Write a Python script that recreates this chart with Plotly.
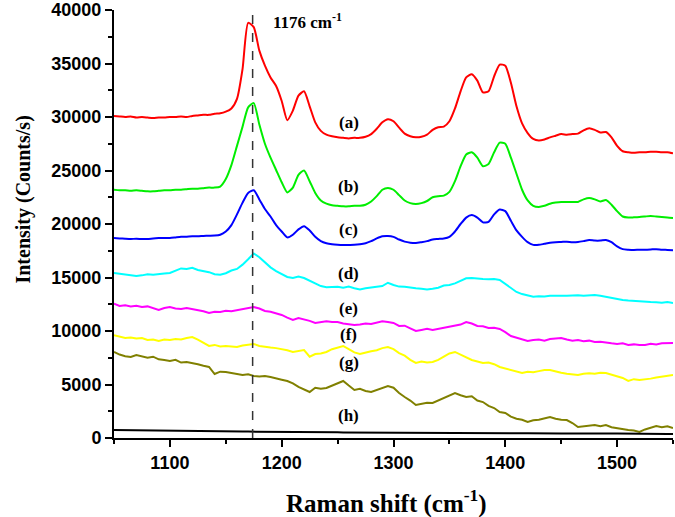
import numpy as np
import plotly.graph_objects as go

raman_shift = list(range(1050, 1551, 5))

series_a = [30100, 30050, 30000, 30050, 29950, 30000, 29950, 29900, 29950, 29950,
            30000, 30000, 30050, 30000, 30100, 30150, 30200, 30200, 30300, 30350,
            30500, 30800, 31700, 34500, 38800, 38400, 36200, 34800, 33700, 32900,
            31500, 29700, 30600, 32000, 32400, 31000, 29500, 28700, 28350, 28200,
            28100, 28050, 28000, 28050, 28050, 28150, 28400, 28900, 29500, 29800,
            29600, 29000, 28450, 28200, 28100, 28150, 28350, 28800, 29050, 29100,
            29600, 30800, 32400, 33700, 34000, 33400, 32300, 32400, 33800, 34900,
            34800, 33200, 31000, 29400, 28500, 27950, 27800, 27900, 28100, 28250,
            28400, 28350, 28400, 28450, 28750, 28950, 28800, 28550, 28600, 28100,
            27300, 26800, 26700, 26650, 26700, 26700, 26750, 26750, 26700, 26700,
            26600]
series_b = [23200, 23150, 23150, 23100, 23150, 23100, 23050, 23050, 23100, 23150,
            23150, 23200, 23200, 23250, 23300, 23300, 23350, 23400, 23400, 23500,
            24200, 25500, 27300, 29100, 30900, 31300, 29300, 27500, 26200, 25050,
            23900, 22950, 23400, 24600, 25000, 24000, 22900, 22200, 21900, 21750,
            21700, 21650, 21650, 21700, 21700, 21800, 22100, 22600, 23200, 23370,
            23200, 22700, 22200, 21950, 21870, 21950, 22150, 22500, 22600, 22650,
            23000, 24000, 25400, 26500, 26700, 26200, 25400, 25600, 26700, 27600,
            27500, 26200, 24700, 23200, 22200, 21700, 21600, 21700, 21900, 22000,
            22060, 22050, 22050, 22060, 22300, 22430, 22300, 22100, 22240, 21800,
            21200, 20700, 20600, 20620, 20650, 20700, 20750, 20700, 20650, 20600,
            20560]
series_c = [18690, 18650, 18620, 18600, 18620, 18600, 18600, 18650, 18680, 18700,
            18700, 18750, 18800, 18820, 18850, 18850, 18880, 18900, 18920, 19000,
            19300, 19900, 20900, 22000, 22900, 23150, 22300, 21400, 20700, 19900,
            19300, 18750, 19000, 19500, 19800, 19400, 18800, 18400, 18200, 18100,
            18050, 18030, 18040, 18050, 18100, 18200, 18400, 18650, 18850, 18880,
            18800, 18550, 18350, 18250, 18220, 18300, 18400, 18550, 18600, 18650,
            18800, 19300, 20000, 20600, 20840, 20600, 20150, 20200, 20900, 21350,
            21200, 20300, 19400, 18800, 18300, 18050, 18050, 18150, 18250, 18300,
            18320, 18350, 18300, 18320, 18400, 18500, 18450, 18450, 18500, 18300,
            17900, 17650, 17600, 17580, 17600, 17600, 17620, 17650, 17600, 17580,
            17550]
series_d = [15420, 15350, 15300, 15250, 15140, 15200, 15300, 15250, 15350, 15380,
            15420, 15650, 15850, 15800, 15900, 15700, 15600, 15500, 15300, 15250,
            15400, 15650, 15800, 16200, 16700, 17250, 16900, 16400, 15950, 15600,
            15300, 15050, 14950, 15080, 14950, 14700, 14450, 14200, 14100, 14150,
            14140, 14050, 14150, 14000, 13890, 14000, 14100, 14140, 14200, 14510,
            14300, 14150, 14140, 14050, 14000, 13950, 13890, 13950, 14050, 14250,
            14300, 14450, 14700, 14920, 14950, 14880, 14860, 14830, 14850, 14770,
            14400, 13950, 13650, 13450, 13300, 13200, 13250, 13230, 13300, 13280,
            13270, 13300, 13320, 13350, 13300, 13330, 13360, 13300, 13200, 13050,
            12950, 12900, 12850, 12800, 12750, 12710, 12700, 12680, 12650, 12700,
            12620]
series_e = [12550, 12340, 12400, 12300, 12350, 12240, 12300, 12100, 11960, 12150,
            12240, 12100, 12050, 12150, 12060, 11950, 11850, 11680, 11800, 11780,
            11900, 11850, 11960, 12000, 12150, 12240, 12100, 11870, 11800, 11650,
            11500, 11250, 11030, 11210, 11100, 10950, 10750, 10800, 10900, 10840,
            10840, 10700, 10650, 10560, 10600, 10700, 10650, 10750, 10900, 10840,
            10750, 10470, 10500, 10250, 10000, 10100, 10200, 10090, 10200, 10300,
            10370, 10500, 10600, 10840, 10700, 10470, 10450, 10280, 10300, 10190,
            9900, 9530, 9400, 9250, 9070, 9150, 9200, 9100, 9250, 9300,
            9350, 9200, 9100, 9150, 9050, 9100, 8970, 9000, 8900, 8850,
            8790, 8850, 8700, 8750, 8690, 8700, 8800, 8750, 8850, 8900,
            8880]
series_f = [9600, 9450, 9350, 9400, 9300, 9350, 9160, 9200, 9070, 9200,
            9150, 9250, 9200, 9350, 9440, 9200, 8900, 8600, 8700, 8550,
            8600, 8550, 8500, 8650, 8700, 8790, 8600, 8500, 8450, 8400,
            8320, 8200, 8040, 8100, 8220, 7600, 7850, 7900, 8040, 8300,
            8450, 8600, 8300, 8000, 7850, 8000, 8100, 8200, 8400, 8500,
            8300, 7940, 7700, 7300, 7010, 7150, 7050, 7100, 7300, 7600,
            7900, 8040, 7800, 7500, 7290, 7150, 7010, 7050, 6900, 6640,
            6500, 6300, 6150, 6070, 6200, 6150, 6250, 6360, 6350, 6200,
            6100, 6000, 5950, 5890, 6000, 6050, 6000, 6100, 6070, 5900,
            5750, 5610, 5330, 5500, 5420, 5450, 5550, 5650, 5750, 5800,
            5890]
series_g = [8040, 7800, 7650, 7570, 7750, 7660, 7500, 7600, 7350, 7290,
            7200, 7300, 7050, 7100, 7010, 6900, 6750, 6640, 5980, 6200,
            6170, 6100, 6000, 5890, 5950, 5790, 5750, 5800, 5700, 5550,
            5450, 5330, 5100, 4770, 4500, 4300, 4700, 4600, 4670, 4900,
            5140, 5330, 4900, 4490, 4600, 4400, 4300, 4500, 4700, 4860,
            4700, 4200, 3830, 3500, 3080, 3200, 3300, 3270, 3500, 3800,
            4000, 4200, 4000, 3830, 3900, 3500, 3360, 3000, 2800, 2430,
            2340, 2000, 1800, 1700, 1500, 1650, 1700, 1800, 1960, 1800,
            1700, 1680, 1400, 1030, 1100, 1150, 1215, 1100, 1210, 1000,
            900, 840, 750, 700, 560, 800, 930, 1120, 1000, 1100,
            930]
series_h = [750, 740, 730, 720, 720, 700, 710, 690, 680, 680,
            670, 680, 660, 650, 650, 640, 640, 630, 630, 620,
            620, 610, 610, 600, 600, 600, 590, 580, 580, 570,
            570, 560, 560, 550, 550, 550, 540, 540, 530, 530,
            530, 520, 520, 510, 520, 500, 510, 500, 510, 500,
            500, 490, 500, 490, 480, 490, 480, 480, 490, 470,
            480, 470, 480, 470, 470, 480, 460, 470, 460, 460,
            450, 460, 450, 450, 440, 450, 440, 440, 430, 440,
            430, 430, 420, 430, 420, 420, 420, 410, 420, 410,
            410, 400, 400, 410, 400, 390, 400, 390, 390, 380,
            380]

series_colors = ["#ff0000", "#00ee00", "#0000ff", "#00ffff", "#ff00ff", "#ffff00", "#808000", "#000000"]
series_data = [series_a, series_b, series_c, series_d, series_e, series_f, series_g, series_h]
series_smooth = [True, True, True, False, False, False, False, False]

label_texts = ["(a)", "(b)", "(c)", "(d)", "(e)", "(f)", "(g)", "(h)"]
label_x = 1260
label_y = [29440, 23460, 19530, 15420, 12150, 9630, 7010, 2150]

peak_position = 1174
peak_label = "1176 cm<sup>-1</sup>"

y_ticks = list(range(0, 40001, 5000))
x_ticks = [1100, 1200, 1300, 1400, 1500]

fig = go.Figure()
for vals, col, sm in zip(series_data, series_colors, series_smooth):
    fig.add_trace(go.Scatter(
        x=raman_shift, y=vals, mode="lines",
        line=dict(color=col, width=2, shape="spline" if sm else "linear", smoothing=0.6 if sm else None),
        showlegend=False, hoverinfo="skip"))

fig.add_shape(type="line", x0=peak_position, x1=peak_position, y0=0, y1=40000,
              xref="x", yref="y", line=dict(color="#333333", width=1.5, dash="dash"))

for t, yv in zip(label_texts, label_y):
    fig.add_annotation(x=label_x, y=yv, text="<b>%s</b>" % t, showarrow=False,
                       font=dict(family="Liberation Serif", size=17, color="black"))

fig.add_annotation(x=1223, y=39000, text="<b>%s</b>" % peak_label, showarrow=False,
                   font=dict(family="Liberation Serif", size=17, color="black"))

# axis titles
fig.add_annotation(xref="paper", yref="paper", x=0.487, y=-0.148, yanchor="middle",
                   text="<b>Raman shift (cm<sup>-1</sup>)</b>", showarrow=False,
                   font=dict(family="Liberation Serif", size=25, color="black"))
fig.add_annotation(xref="paper", yref="paper", x=-0.186, y=0.556, textangle=-90,
                   text="<b>Intensity (Counts/s)</b>", showarrow=False,
                   font=dict(family="Liberation Serif", size=20, color="black"))

axis_font = dict(family="Liberation Sans", size=18, color="black")
fig.update_layout(
    width=675, height=517,
    margin=dict(l=114, r=2, t=10, b=79),
    paper_bgcolor="white", plot_bgcolor="white",
    xaxis=dict(range=[1050, 1550], tickvals=x_ticks, ticktext=["<b>%d</b>" % v for v in x_ticks],
               automargin=False,
               showline=True, linecolor="black", linewidth=2, ticks="outside", ticklen=7, tickwidth=2,
               tickcolor="black", showgrid=False, zeroline=False, tickfont=axis_font,
               minor=dict(dtick=50, ticks="outside", ticklen=4, tickwidth=1.5, tickcolor="black")),
    yaxis=dict(range=[0, 40000], tickvals=y_ticks, ticktext=["<b>%d</b>" % v for v in y_ticks],
               automargin=False,
               showline=True, linecolor="black", linewidth=2, ticks="outside", ticklen=7, tickwidth=2,
               tickcolor="black", showgrid=False, zeroline=False, tickfont=axis_font,
               minor=dict(dtick=2500, ticks="outside", ticklen=4, tickwidth=1.5, tickcolor="black")),
)

fig.write_html("out.html", config={"displayModeBar": False},
               post_script="document.body.style.margin='0px';document.body.style.overflow='hidden';")
